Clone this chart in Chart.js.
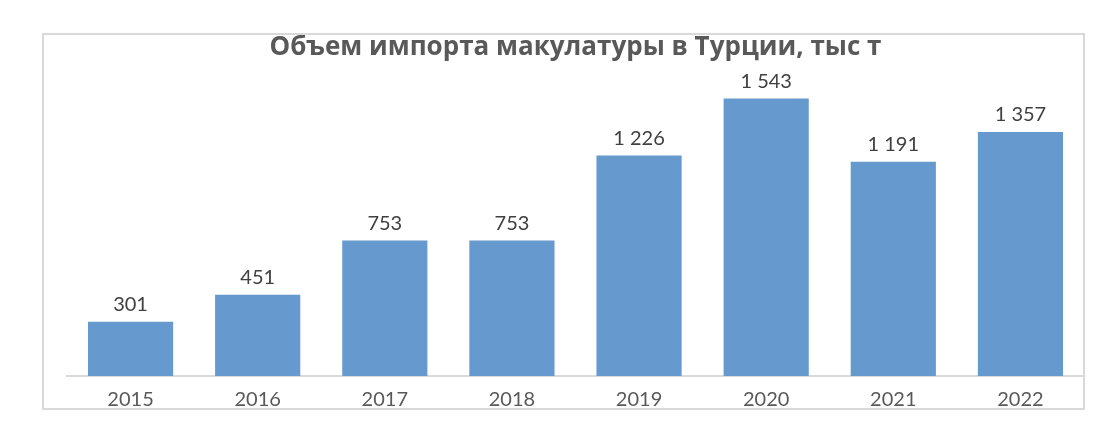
<!DOCTYPE html>
<html>
<head>
<meta charset="utf-8">
<script src="https://cdn.jsdelivr.net/npm/chart.js@4"></script>
<style>
  html, body { margin: 0; padding: 0; background: #fff; }
  #wrap { position: relative; width: 1112px; height: 430px; }
  #frame {
    position: absolute; left: 42px; top: 33px; width: 1043px; height: 377px;
    border: 2px solid #d9d9d9; box-sizing: border-box; pointer-events: none;
  }
</style>
</head>
<body>
<div id="wrap">
  <canvas id="grafico" width="1112" height="430"></canvas>
  <div id="frame"></div>
</div>
<script>
  const titulo = 'Объем импорта макулатуры в Турции, тыс т';
  const anios = ['2015', '2016', '2017', '2018', '2019', '2020', '2021', '2022'];
  const importacion = [301, 451, 753, 753, 1226, 1543, 1191, 1357];

  // "1 543" con espacio como separador de miles
  function formatear(v) {
    return String(v).replace(/\B(?=(\d{3})+(?!\d))/g, ' ');
  }

  const etiquetas = {
    id: 'etiquetas',
    afterDatasetsDraw(chart) {
      const ctx = chart.ctx;
      const meta = chart.getDatasetMeta(0);
      ctx.save();
      ctx.font = '20px Lato';
      ctx.fillStyle = '#404040';
      ctx.textAlign = 'center';
      ctx.textBaseline = 'bottom';
      meta.data.forEach((bar, i) => {
        ctx.fillText(formatear(importacion[i]), bar.x, bar.y - 7);
      });
      ctx.restore();
    }
  };

  const ctx = document.getElementById('grafico').getContext('2d');
  new Chart(ctx, {
    type: 'bar',
    data: {
      labels: anios,
      datasets: [{
        data: importacion,
        backgroundColor: '#6699cd',
        borderWidth: 0,
        categoryPercentage: 1,
        barPercentage: 0.67
      }]
    },
    options: {
      responsive: false,
      animation: false,
      layout: { padding: { left: 67, right: 28, top: 32, bottom: 6 } },
      plugins: {
        legend: { display: false },
        tooltip: { enabled: false },
        title: {
          display: true,
          text: titulo,
          color: '#595959',
          font: { family: 'Open Sans', size: 26, weight: 'bold', lineHeight: 1.2 },
          padding: { top: 0, bottom: 7 }
        }
      },
      scales: {
        x: {
          grid: { display: false, drawTicks: false },
          border: { display: true, color: '#d9d9d9', width: 2 },
          ticks: { color: '#595959', font: { family: 'Lato', size: 20 }, padding: 12 }
        },
        y: { display: false, min: 0, max: 1700 }
      }
    },
    plugins: [etiquetas]
  });
</script>
</body>
</html>
